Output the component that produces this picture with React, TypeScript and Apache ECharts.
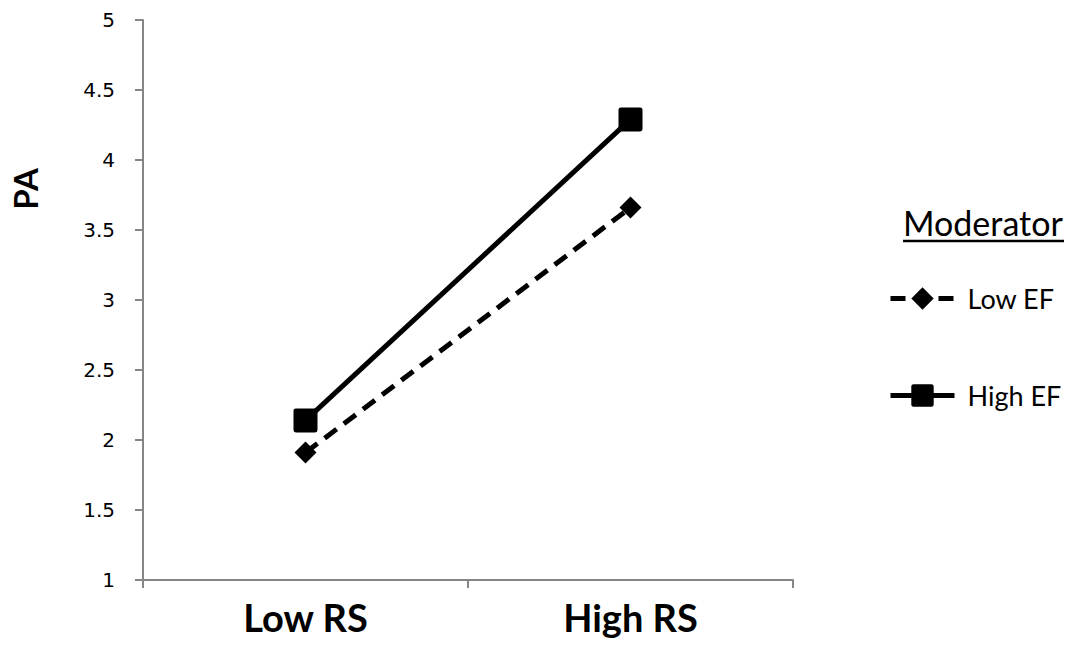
import React, { useEffect, useRef } from "react";
import * as echarts from "echarts";

const categories = ["Low RS", "High RS"];
const lowEF = [1.91, 3.66];
const highEF = [2.14, 4.29];
const seriesNames = ["Low EF", "High EF"];
const yTicks = { min: 1, max: 5, interval: 0.5 };

export default function App() {
  const ref = useRef<HTMLDivElement>(null);
  useEffect(() => {
    const chart = echarts.init(ref.current!, null, { renderer: "svg" });
    chart.setOption({
      animation: false,
      backgroundColor: "#ffffff",
      grid: { left: 143, right: 281, top: 20, bottom: 66, containLabel: false },
      xAxis: {
        type: "category",
        data: categories,
        boundaryGap: true,
        axisLine: { lineStyle: { color: "#868686", width: 2 } },
        axisTick: { show: true, length: 8, lineStyle: { color: "#868686", width: 2 } },
        axisLabel: {
          color: "#000",
          fontSize: 38,
          fontWeight: "bold",
          fontFamily: "Lato",
          margin: 18,
        },
      },
      yAxis: {
        type: "value",
        min: yTicks.min,
        max: yTicks.max,
        interval: yTicks.interval,
        splitLine: { show: false },
        axisLine: { show: true, lineStyle: { color: "#868686", width: 2 } },
        axisTick: { show: true, length: 8, lineStyle: { color: "#868686", width: 2 } },
        axisLabel: { color: "#000", fontSize: 20, fontFamily: "DejaVu Sans", margin: 28 },
      },
      legend: {
        orient: "vertical",
        left: 883,
        top: 280,
        itemGap: 70,
        itemWidth: 64,
        itemHeight: 28,
        lineStyle: { width: 5 },
        textStyle: { color: "#000", fontSize: 27, fontFamily: "Lato", padding: [0, 0, 0, 8] },
        data: seriesNames,
      },
      graphic: [
        {
          type: "text",
          x: 25,
          y: 189,
          rotation: Math.PI / 2,
          style: {
            text: "PA",
            fill: "#000",
            fontSize: 33,
            fontWeight: "bold",
            fontFamily: "Lato",
            align: "center",
            verticalAlign: "middle",
          },
        },
        {
          type: "text",
          x: 903,
          y: 222,
          style: {
            text: "Moderator",
            fill: "#000",
            fontSize: 34,
            fontFamily: "Lato",
            align: "left",
            verticalAlign: "middle",
          },
        },
        {
          type: "line",
          shape: { x1: 903, y1: 241, x2: 1064, y2: 241 },
          style: { stroke: "#000", lineWidth: 2.5 },
        },
      ],
      series: [
        {
          name: seriesNames[0],
          type: "line",
          data: lowEF,
          symbol: "diamond",
          symbolSize: 22,
          lineStyle: { color: "#000", width: 5, type: [15, 9] },
          itemStyle: { color: "#000" },
        },
        {
          name: seriesNames[1],
          type: "line",
          data: highEF,
          symbol: "path://M2,0 H18 Q20,0 20,2 V18 Q20,20 18,20 H2 Q0,20 0,18 V2 Q0,0 2,0 Z",
          symbolSize: 24,
          lineStyle: { color: "#000", width: 5 },
          itemStyle: { color: "#000" },
        },
      ],
    });
    return () => chart.dispose();
  }, []);
  return <div ref={ref} style={{ width: 1074, height: 646, margin: -8 }} />;
}
